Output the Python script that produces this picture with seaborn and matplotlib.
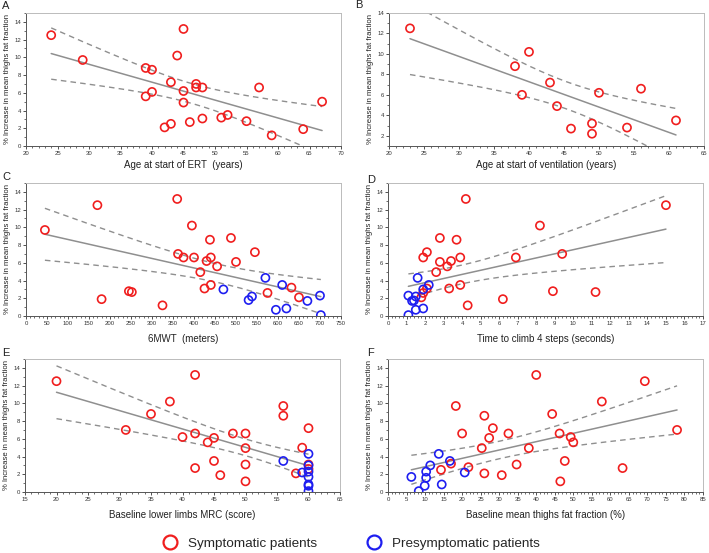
import numpy as np
import pandas as pd
import matplotlib
matplotlib.use("Agg")
import matplotlib.pyplot as plt
from matplotlib.lines import Line2D
from matplotlib.ticker import MultipleLocator
import seaborn as sns

# ---------------- data ----------------
# A: Age at start of ERT (symptomatic only)
a_x = [24, 29, 39, 40, 44, 45, 43, 47, 47, 48, 57, 45, 39, 40, 45, 67, 42, 43, 46, 48, 51, 52, 55, 59, 64]
a_y = [12.5, 9.7, 8.8, 8.6, 10.2, 13.2, 7.2, 7.0, 6.6, 6.6, 6.6, 6.2, 5.6, 6.1, 4.9, 5.0, 2.1, 2.5, 2.7, 3.1, 3.2, 3.5, 2.8, 1.2, 1.9]

# B: Age at start of ventilation (symptomatic only)
b_x = [23, 38, 40, 39, 43, 44, 50, 56, 46, 49, 49, 54, 61]
b_y = [12.5, 8.8, 10.2, 6.0, 7.2, 4.9, 6.2, 6.6, 2.7, 3.2, 2.2, 2.8, 3.5]

# C: 6MWT
c_x_sym = [45, 170, 180, 245, 252, 325, 360, 362, 375, 395, 400, 415, 425, 430, 438, 440, 440, 455, 488, 500, 545, 575, 632, 650]
c_y_sym = [9.7, 12.5, 1.9, 2.8, 2.7, 1.2, 13.2, 7.0, 6.6, 10.2, 6.6, 4.95, 3.1, 6.2, 8.6, 6.6, 3.5, 5.6, 8.8, 6.1, 7.2, 2.6, 3.2, 2.1]
c_x_pre = [470, 530, 538, 570, 595, 610, 620, 670, 700, 702]
c_y_pre = [3.0, 1.8, 2.2, 4.3, 0.7, 3.5, 0.85, 1.7, 2.3, 0.1]

# D: Time to climb 4 steps
d_x_sym = [15, 4.2, 8.2, 2.8, 3.7, 2.1, 9.4, 1.9, 3.9, 6.9, 2.8, 3.4, 3.2, 2.6, 3.9, 3.3, 2.1, 1.8, 1.9, 8.9, 11.2, 6.2, 4.3]
d_y_sym = [12.5, 13.2, 10.2, 8.8, 8.6, 7.2, 7.0, 6.6, 6.6, 6.6, 6.1, 6.2, 5.6, 4.95, 3.5, 3.1, 3.1, 2.1, 2.6, 2.8, 2.7, 1.9, 1.2]
d_x_pre = [1.1, 1.3, 1.4, 1.5, 1.6, 1.9, 2.2, 1.5, 1.9, 1.1]
d_y_pre = [2.3, 1.7, 1.75, 2.2, 4.3, 3.0, 3.5, 0.7, 0.85, 0.1]

# E: Baseline lower limbs MRC
e_x_sym = [20, 31, 35, 38, 40, 42, 42, 42, 44, 45, 45, 46, 48, 50, 50, 50, 50, 56, 56, 58, 59, 60, 60, 60]
e_y_sym = [12.5, 7.0, 8.8, 10.2, 6.2, 13.2, 6.6, 2.7, 5.6, 6.1, 3.5, 1.9, 6.6, 6.6, 4.95, 3.1, 1.2, 9.7, 8.6, 2.1, 5.0, 7.2, 3.1, 2.6]
e_x_pre = [56, 59, 60, 60, 60, 60, 60, 60, 60]
e_y_pre = [3.5, 2.2, 4.3, 3.0, 2.3, 1.7, 0.7, 0.85, 0.1]

# F: Baseline mean thighs fat fraction
f_x_sym = [18.3, 20, 14.3, 17, 21.7, 25.3, 26, 26, 27.3, 28.3, 30.7, 32.5, 34.7, 38, 40, 44.3, 46.3, 46.5, 47.7, 49.3, 50, 57.7, 63.3, 69.3, 78]
f_y_sym = [9.7, 6.6, 2.5, 3.2, 2.8, 4.95, 8.6, 2.1, 6.1, 7.2, 1.9, 6.6, 3.1, 4.95, 13.2, 8.8, 6.6, 1.2, 3.5, 6.2, 5.6, 10.2, 2.7, 12.5, 7.0]
f_x_pre = [6.3, 8.3, 9.9, 10.3, 10.3, 11.4, 13.7, 14.5, 16.7, 20.7]
f_y_pre = [1.7, 0.1, 0.7, 2.3, 1.6, 3.0, 4.3, 0.85, 3.5, 2.2]

YLABEL = "% Increase in mean thighs fat fraction"
RED = "#f01e1e"
BLUE = "#1e1ef0"
GRAY = "#8f8f8f"

sns.set_style("ticks")
plt.rcParams["font.family"] = ["Liberation Sans", "DejaVu Sans"]

fig = plt.figure(figsize=(7.09, 5.53), dpi=100)
W, H = 709.0, 553.0


def add_ax(left, top, right, bottom):
    return fig.add_axes([left / W, 1 - bottom / H, (right - left) / W, (bottom - top) / H])


def t975(df):
    table = {5: 2.571, 6: 2.447, 7: 2.365, 8: 2.306, 9: 2.262, 10: 2.228, 11: 2.201, 12: 2.179,
             13: 2.160, 14: 2.145, 15: 2.131, 16: 2.120, 17: 2.110, 18: 2.101, 19: 2.093, 20: 2.086,
             21: 2.080, 22: 2.074, 23: 2.069, 24: 2.064, 25: 2.060, 26: 2.056, 27: 2.052, 28: 2.048,
             29: 2.045, 30: 2.042}
    return table.get(df, 2.02)


def panel(ax, xs, ys, xp, yp, xlim, ylim, xmaj, xmin, yticks, letter, letter_xy, xlabel, xlabel_pad):
    dsym = pd.DataFrame({"x": xs, "y": ys})
    sns.scatterplot(data=dsym, x="x", y="y", ax=ax, marker="o", s=34,
                    facecolors="none", edgecolor=RED, linewidth=1.2, zorder=3, legend=False)
    allx = np.array(xs, float)
    ally = np.array(ys, float)
    if xp is not None:
        dpre = pd.DataFrame({"x": xp, "y": yp})
        sns.scatterplot(data=dpre, x="x", y="y", ax=ax, marker="o", s=34,
                        facecolors="none", edgecolor=BLUE, linewidth=1.2, zorder=3, legend=False)
        allx = np.concatenate([allx, np.array(xp, float)])
        ally = np.concatenate([ally, np.array(yp, float)])
    # linear regression with 95% CI of mean
    n = len(allx)
    b, a = np.polyfit(allx, ally, 1)
    grid = np.linspace(allx.min(), allx.max(), 200)
    fit = a + b * grid
    resid = ally - (a + b * allx)
    s = np.sqrt(np.sum(resid ** 2) / (n - 2))
    xbar = allx.mean()
    sxx = np.sum((allx - xbar) ** 2)
    se = s * np.sqrt(1.0 / n + (grid - xbar) ** 2 / sxx)
    t = t975(n - 2)
    ax.plot(grid, fit, color=GRAY, lw=1.1, zorder=2)
    ax.plot(grid, fit + t * se, color=GRAY, lw=1.0, ls=(0, (4, 3)), zorder=2)
    ax.plot(grid, fit - t * se, color=GRAY, lw=1.0, ls=(0, (4, 3)), zorder=2)

    ax.set_xlim(*xlim)
    ax.set_ylim(*ylim)
    ax.xaxis.set_major_locator(MultipleLocator(xmaj))
    ax.xaxis.set_minor_locator(MultipleLocator(xmin))
    ax.set_yticks(yticks)
    ax.yaxis.set_minor_locator(MultipleLocator(1))
    ax.tick_params(axis="both", which="major", labelsize=4.3, length=2.5, width=0.6,
                   pad=1.2, colors="#333333", labelcolor="#333333")
    ax.tick_params(axis="both", which="minor", length=1.5, width=0.5, colors="#333333")
    for side in ["left", "bottom"]:
        ax.spines[side].set_color("#555555")
        ax.spines[side].set_linewidth(0.7)
    for side in ["top", "right"]:
        ax.spines[side].set_visible(True)
        ax.spines[side].set_color("#bbbbbb")
        ax.spines[side].set_linewidth(0.7)
    ax.set_xlabel(xlabel, fontsize=7, labelpad=xlabel_pad, color="#222222")
    ax.set_ylabel(YLABEL, fontsize=5.6, labelpad=2, color="#222222")
    fig.text(letter_xy[0] / W, 1 - letter_xy[1] / H, letter, fontsize=8, ha="left", va="bottom",
             color="#222222")


axA = add_ax(26, 13, 341, 146)
panel(axA, a_x, a_y, None, None, (20, 70), (0, 15), 5, 1, [0, 2, 4, 6, 8, 10, 12, 14], "A",
      (2, 11), "Age at start of ERT  (years)", 3)

axB = add_ax(389, 13, 704, 146)
panel(axB, b_x, b_y, None, None, (20, 65), (1, 14), 5, 1, [2, 4, 6, 8, 10, 12, 14], "B",
      (355, 10), "Age at start of ventilation (years)", 3)

axC = add_ax(26, 183, 341, 316)
panel(axC, c_x_sym, c_y_sym, c_x_pre, c_y_pre, (0, 750), (0, 15), 50, 10,
      [0, 2, 4, 6, 8, 10, 12, 14], "C", (2, 182), "6MWT  (meters)", 6)

axD = add_ax(388, 183, 703, 316)
panel(axD, d_x_sym, d_y_sym, d_x_pre, d_y_pre, (0, 17), (0, 15), 1, 0.2,
      [0, 2, 4, 6, 8, 10, 12, 14], "D", (367, 185), "Time to climb 4 steps (seconds)", 6)

axE = add_ax(25, 359, 340, 492)
panel(axE, e_x_sym, e_y_sym, e_x_pre, e_y_pre, (15, 65), (0, 15), 5, 1,
      [0, 2, 4, 6, 8, 10, 12, 14], "E", (2, 358), "Baseline lower limbs MRC (score)", 6)

axF = add_ax(388, 359, 703, 492)
panel(axF, f_x_sym, f_y_sym, f_x_pre, f_y_pre, (0, 85), (0, 15), 5, 1,
      [0, 2, 4, 6, 8, 10, 12, 14], "F", (367, 358), "Baseline mean thighs fat fraction (%)", 6)

handles = [
    Line2D([], [], marker="o", ls="none", markersize=10, markerfacecolor="none",
           markeredgecolor=RED, markeredgewidth=1.6, label="Symptomatic patients"),
    Line2D([], [], marker="o", ls="none", markersize=10, markerfacecolor="none",
           markeredgecolor=BLUE, markeredgewidth=1.6, label="Presymptomatic patients"),
]
fig.legend(handles=handles, loc="center", bbox_to_anchor=(348 / W, 1 - 544 / H), ncol=2,
           frameon=False, fontsize=9.7, columnspacing=3.2, handletextpad=0.35)

fig.savefig("out.png", dpi=100, facecolor="white")
